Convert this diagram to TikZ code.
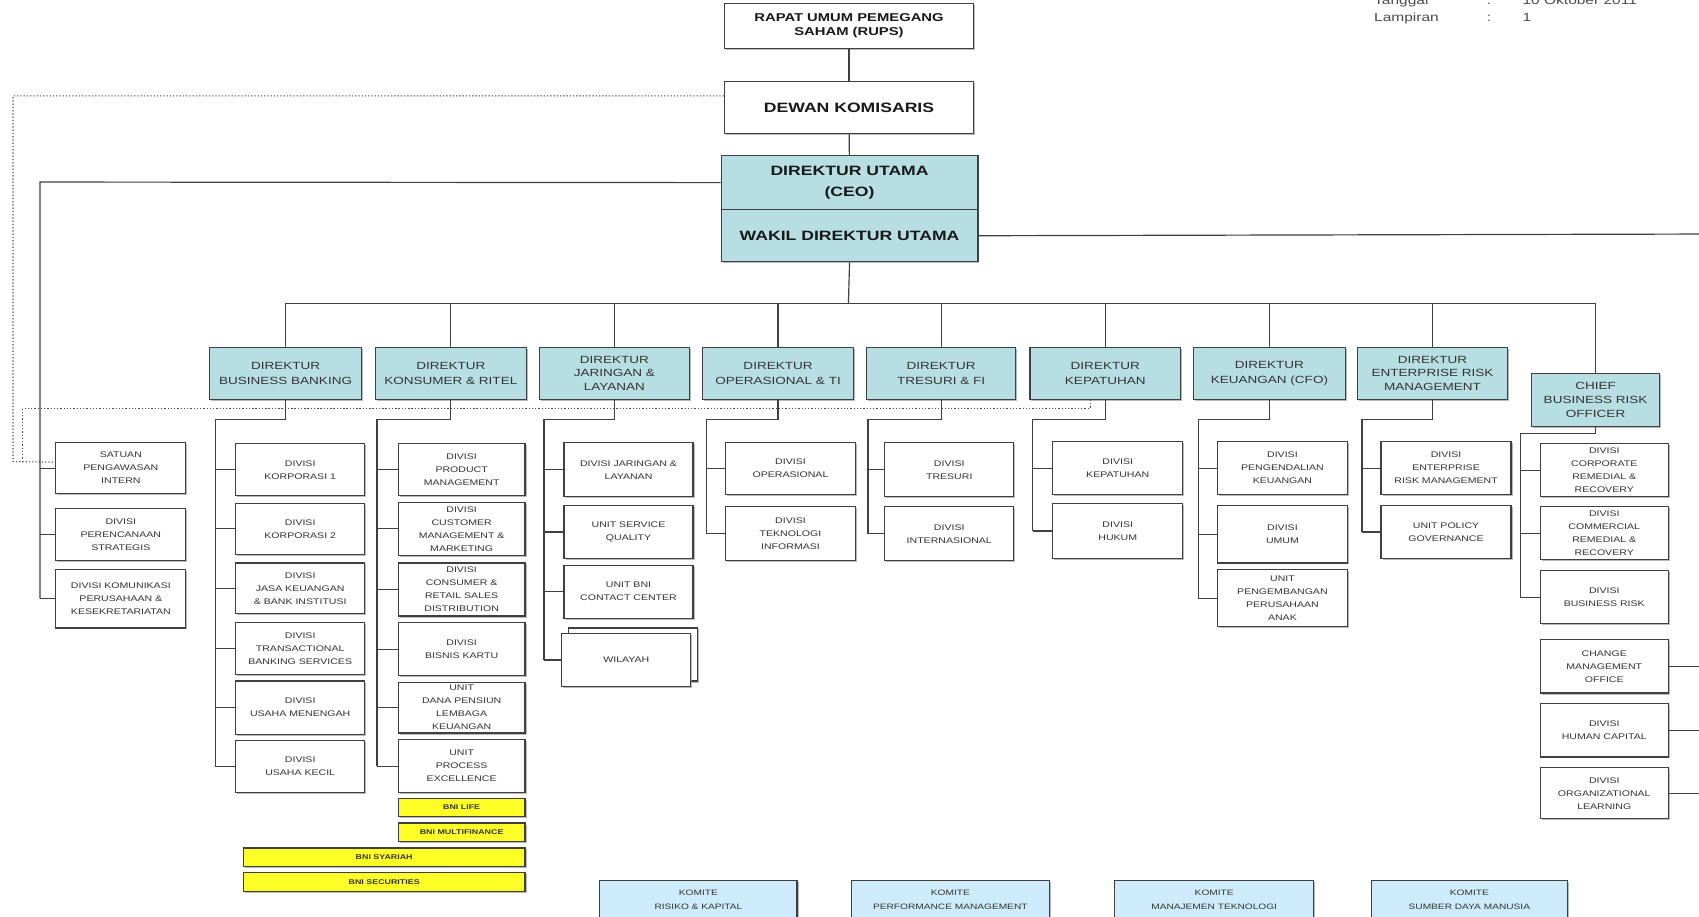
\documentclass[tikz,border=0pt]{standalone}
\usepackage{fontspec}
\setmainfont{Liberation Sans}
\newfontfamily\wide[FakeStretch=1.3]{Liberation Sans}
\usetikzlibrary{shadows}
\definecolor{dirfill}{RGB}{183,222,226}
\definecolor{komfill}{RGB}{205,235,250}
\definecolor{yelfill}{RGB}{255,255,40}
\newcommand\obx[6]{\node[#1,anchor=north west,minimum width={(#4)-(#2)},minimum height={(#5)-(#3)}] (#6) at (#2,#3)}
\begin{document}
\begin{tikzpicture}[x=1pt,y=-1pt,
  ln/.style={draw=black!75,line width=1.1pt},
  dl/.style={draw=black!70,line width=1pt,dash pattern=on 1.2pt off 1.8pt},
  box/.style={draw=black!75,line width=1.1pt,fill=white,align=center,inner sep=0.5pt,text=black!80,
    drop shadow={shadow xshift=1.4pt,shadow yshift=-1.4pt,fill=black!45,opacity=0.6}},
  topbox/.style={box,text=black!90,font=\wide\bfseries\fontsize{12.5}{15}\selectfont},
  dir/.style={box,fill=dirfill,font=\wide\fontsize{9.6}{13.5}\selectfont},
  child/.style={box,font=\wide\fontsize{7.5}{12}\selectfont},
  yel/.style={box,fill=yelfill,font=\wide\bfseries\fontsize{6.3}{8}\selectfont,inner sep=0pt},
  kom/.style={box,fill=komfill,font=\wide\fontsize{7.2}{13}\selectfont},
  hdr/.style={inner sep=0pt,anchor=base west,text=black!70,font=\wide\fontsize{11}{13}\selectfont}]
\fill[white] (0,0) rectangle (1568,846);
\useasboundingbox (0,0) rectangle (1568,846);

% header
\node[hdr] (tg) at (1268,4) {Tanggal};
\node[hdr] (tgc) at (1372,4) {:};
\node[hdr] (tgv) at (1405,4) {10 Oktober 2011};
\node[hdr] (lp) at (1268,20) {Lampiran};
\node[hdr] (lpc) at (1372,20) {:};
\node[hdr] (lpv) at (1405,20) {1};

% top
\obx{topbox,font=\wide\bfseries\fontsize{10.5}{13}\selectfont}{668}{3}{898}{44}{rups}{RAPAT UMUM PEMEGANG\\SAHAM (RUPS)};
\obx{topbox}{668}{75}{898}{123}{dewan}{DEWAN KOMISARIS};
\obx{topbox,fill=dirfill,font=\wide\bfseries\fontsize{12.5}{20}\selectfont}{665}{143}{902}{193}{ceo}{DIREKTUR UTAMA\\(CEO)};
\obx{topbox,fill=dirfill}{665}{193}{902}{241}{wakil}{WAKIL DIREKTUR UTAMA};

% directors
\obx{dir}{193}{320}{333}{368}{bb}{DIREKTUR\\BUSINESS BANKING};
\obx{dir}{346}{320}{485}{368}{kr}{DIREKTUR\\KONSUMER \& RITEL};
\obx{dir,font=\wide\fontsize{9.6}{12.5}\selectfont}{497}{320}{636}{368}{jl}{DIREKTUR\\JARINGAN \&\\LAYANAN};
\obx{dir}{648}{320}{787}{368}{oti}{DIREKTUR\\OPERASIONAL \& TI};
\obx{dir}{799}{320}{937}{368}{tf}{DIREKTUR\\TRESURI \& FI};
\obx{dir}{950}{320}{1089}{368}{kep}{DIREKTUR\\KEPATUHAN};
\obx{dir}{1101}{320}{1241}{368}{keu}{DIREKTUR\\KEUANGAN (CFO)};
\obx{dir,font=\wide\fontsize{9.6}{12.5}\selectfont}{1252}{320}{1391}{368}{erm}{DIREKTUR\\ENTERPRISE RISK\\MANAGEMENT};
\obx{dir,font=\wide\fontsize{9.6}{12.5}\selectfont}{1413}{344}{1531}{393}{cbro}{CHIEF\\BUSINESS RISK\\OFFICER};

% left column
\obx{child}{51}{408}{171}{455}{sat}{SATUAN\\PENGAWASAN\\INTERN};
\obx{child}{51}{469}{171}{517}{per}{DIVISI\\PERENCANAAN\\STRATEGIS};
\obx{child}{51}{525}{171}{579}{kom}{DIVISI KOMUNIKASI\\PERUSAHAAN \&\\KESEKRETARIATAN};

% business banking
\obx{child}{217}{409}{336}{457}{b1}{DIVISI\\KORPORASI 1};
\obx{child}{217}{464}{336}{511}{b2}{DIVISI\\KORPORASI 2};
\obx{child}{217}{519}{336}{566}{b3}{DIVISI\\JASA KEUANGAN\\\& BANK INSTITUSI};
\obx{child}{217}{574}{336}{622}{b4}{DIVISI\\TRANSACTIONAL\\BANKING SERVICES};
\obx{child}{217}{628}{336}{677}{b5}{DIVISI\\USAHA MENENGAH};
\obx{child}{217}{683}{336}{731}{b6}{DIVISI\\USAHA KECIL};

% konsumer & ritel
\obx{child}{367}{409}{484}{457}{r1}{DIVISI\\PRODUCT\\MANAGEMENT};
\obx{child}{367}{463}{484}{512}{r2}{DIVISI\\CUSTOMER\\MANAGEMENT \&\\MARKETING};
\obx{child}{367}{519}{484}{568}{r3}{DIVISI\\CONSUMER \&\\RETAIL SALES\\DISTRIBUTION};
\obx{child}{367}{574}{484}{623}{r4}{DIVISI\\BISNIS KARTU};
\obx{child}{367}{629}{484}{676}{r5}{UNIT\\DANA PENSIUN\\LEMBAGA\\KEUANGAN};
\obx{child}{367}{682}{484}{731}{r6}{UNIT\\PROCESS\\EXCELLENCE};
\obx{yel}{367}{736}{484}{753}{y1}{BNI LIFE};
\obx{yel}{367}{759}{484}{776}{y2}{BNI MULTIFINANCE};
\obx{yel}{224}{782}{484}{799}{y3}{BNI SYARIAH};
\obx{yel}{224}{805}{484}{822}{y4}{BNI SECURITIES};

% jaringan & layanan
\obx{child}{520}{408}{639}{458}{j1}{DIVISI JARINGAN \&\\LAYANAN};
\obx{child}{520}{466}{639}{515}{j2}{UNIT SERVICE\\QUALITY};
\obx{child}{520}{521}{639}{570}{j3}{UNIT BNI\\CONTACT CENTER};
\obx{child}{524}{579}{643}{628}{j4b}{};
\obx{child}{518}{584}{637}{633}{j4}{WILAYAH};

% operasional & TI
\obx{child}{669}{408}{789}{456}{o1}{DIVISI\\OPERASIONAL};
\obx{child}{669}{467}{789}{517}{o2}{DIVISI\\TEKNOLOGI\\INFORMASI};

% tresuri & FI
\obx{child}{816}{408}{935}{458}{t1}{DIVISI\\TRESURI};
\obx{child}{816}{467}{935}{517}{t2}{DIVISI\\INTERNASIONAL};

% kepatuhan
\obx{child}{971}{407}{1091}{456}{p1}{DIVISI\\KEPATUHAN};
\obx{child}{971}{464}{1091}{515}{p2}{DIVISI\\HUKUM};

% keuangan
\obx{child}{1123}{407}{1243}{456}{u1}{DIVISI\\PENGENDALIAN\\KEUANGAN};
\obx{child}{1123}{466}{1243}{519}{u2}{DIVISI\\UMUM};
\obx{child}{1123}{525}{1243}{578}{u3}{UNIT\\PENGEMBANGAN\\PERUSAHAAN\\ANAK};

% ERM
\obx{child}{1274}{407}{1394}{456}{e1}{DIVISI\\ENTERPRISE\\RISK MANAGEMENT};
\obx{child}{1274}{466}{1394}{515}{e2}{UNIT POLICY\\GOVERNANCE};

% CBRO
\obx{child}{1421}{409}{1539}{458}{c1}{DIVISI\\CORPORATE\\REMEDIAL \&\\RECOVERY};
\obx{child}{1421}{467}{1539}{516}{c2}{DIVISI\\COMMERCIAL\\REMEDIAL \&\\RECOVERY};
\obx{child}{1421}{526}{1539}{575}{c3}{DIVISI\\BUSINESS RISK};
\obx{child}{1421}{590}{1539}{639}{c4}{CHANGE\\MANAGEMENT\\OFFICE};
\obx{child}{1421}{649}{1539}{698}{c5}{DIVISI\\HUMAN CAPITAL};
\obx{child}{1421}{708}{1539}{755}{c6}{DIVISI\\ORGANIZATIONAL\\LEARNING};

% committees
\obx{kom}{553}{812}{735}{848}{k1}{KOMITE\\RISIKO \& KAPITAL};
\obx{kom}{785}{812}{968}{848}{k2}{KOMITE\\PERFORMANCE MANAGEMENT};
\obx{kom}{1028}{812}{1212}{848}{k3}{KOMITE\\MANAJEMEN TEKNOLOGI};
\obx{kom}{1265}{812}{1446}{848}{k4}{KOMITE\\SUMBER DAYA MANUSIA};

% ---- connectors ----
\coordinate (hub) at (783,280);
\draw[ln] (rups) -- (dewan);
\draw[ln] (dewan) -- (ceo);
\draw[ln] (wakil.south) -- (hub);
\foreach \d in {bb,kr,jl,oti,tf,kep,keu,erm,cbro} \draw[ln] (hub) -| (\d.north);

% left
\coordinate (ls) at (37,168);
\draw[ln] (ceo.west) -- (ls) -- (ls |- kom.west);
\foreach \n in {sat,per,kom} \draw[ln] (\n.west) -- (\n.west -| ls);

% right
\coordinate (re) at (1568,216);
\draw[ln] (wakil.east) -- (re);
\foreach \n in {c4,c5,c6} \draw[ln] (\n.east) -- (\n.east -| re);

% columns
\coordinate (bbk) at (199,387);
\draw[ln] (bb.south) |- (bbk) -- (bbk |- b6.west);
\foreach \n in {b1,b2,b3,b4,b5,b6} \draw[ln] (\n.west) -- (\n.west -| bbk);

\coordinate (krk) at (348,387);
\draw[ln] (kr.south) |- (krk) -- (krk |- r6.west);
\foreach \n in {r1,r2,r3,r4,r5,r6} \draw[ln] (\n.west) -- (\n.west -| krk);

\coordinate (jlk) at (502,387);
\draw[ln] (jl.south) |- (jlk) -- (jlk |- j4.west);
\foreach \n in {j1,j2,j3,j4} \draw[ln] (\n.west) -- (\n.west -| jlk);

\coordinate (otk) at (652,387);
\draw[ln] (oti.south) |- (otk) -- (otk |- o2.west);
\foreach \n in {o1,o2} \draw[ln] (\n.west) -- (\n.west -| otk);

\coordinate (tfk) at (801,387);
\draw[ln] (tf.south) |- (tfk) -- (tfk |- t2.west);
\foreach \n in {t1,t2} \draw[ln] (\n.west) -- (\n.west -| tfk);

\coordinate (kpk) at (953,387);
\draw[ln] (kep.south) |- (kpk) -- (kpk |- p2.west);
\foreach \n in {p1,p2} \draw[ln] (\n.west) -- (\n.west -| kpk);

\coordinate (kuk) at (1106,387);
\draw[ln] (keu.south) |- (kuk) -- (kuk |- u3.west);
\foreach \n in {u1,u2,u3} \draw[ln] (\n.west) -- (\n.west -| kuk);

\coordinate (emk) at (1257,387);
\draw[ln] (erm.south) |- (emk) -- (emk |- e2.west);
\foreach \n in {e1,e2} \draw[ln] (\n.west) -- (\n.west -| emk);

\coordinate (cbk) at (1403,400);
\draw[ln] (cbro.south) |- (cbk) -- (cbk |- c3.west);
\foreach \n in {c1,c2,c3} \draw[ln] (\n.west) -- (\n.west -| cbk);

% dotted lines
\coordinate (dA) at (12,426);
\coordinate (dB) at (21,377);
\draw[dl] ([yshift=11pt]dewan.west) -| (dA) -- ([yshift=5.5pt]sat.west);
\draw[dl] ([xshift=-14pt]kep.south) |- (dB) -- (dB |- dA);
\end{tikzpicture}
\end{document}
